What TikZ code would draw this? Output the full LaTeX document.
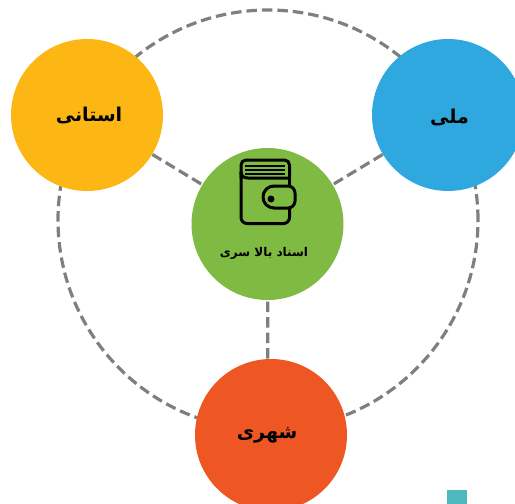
\documentclass[tikz,border=0pt]{standalone}
\usepackage{fontspec}
\TeXXeTstate=1
\newfontfamily\arabicfont[Script=Arabic]{DejaVu Sans}
\definecolor{ringgray}{HTML}{7F7F7F}
\definecolor{cOrange}{HTML}{FDB714}
\definecolor{cBlue}{HTML}{2FA8E0}
\definecolor{cGreen}{HTML}{7FBA42}
\definecolor{cRed}{HTML}{EE5623}
\definecolor{cTeal}{HTML}{4DB8BE}
\tikzset{
  disc/.style={circle,minimum size=152pt,inner sep=0pt,outer sep=0pt,text=black},
  disclabel/.style={font=\arabicfont\bfseries\fontsize{19}{22}\selectfont,text=black,inner sep=0pt},
  ring/.style={circle,draw=ringgray,line width=3.2pt,dash pattern=on 10.5pt off 5pt,minimum size=420pt,inner sep=0pt},
  link/.style={draw=ringgray,line width=3.2pt,dash pattern=on 10.5pt off 5pt},
  walletline/.style={draw=black,line width=3pt,line join=round,line cap=round},
  walletthin/.style={draw=black,line width=1.6pt,line cap=butt},
}
\begin{document}
\begin{tikzpicture}[x=1pt,y=-1pt]
\useasboundingbox (0,0) rectangle (515,504);
\clip (0,0) rectangle (515,504);
\node[ring] (big) at (268,220) {};
\coordinate (cc) at (267.5,224);
\coordinate (co) at (87,115);
\coordinate (cb) at (448,115);
\coordinate (cr) at (271,435);
\coordinate (crtop) at (268,435);
\draw[link] (cc) -- (co);
\draw[link] (cc) -- (cb);
\draw[link] (cc) -- (crtop);
\node[disc,fill=cOrange] (prov) at (co) {};
\node[disc,fill=cBlue] (nat) at (cb) {};
\node[disc,fill=cRed] (city) at (cr) {};
\node[disc,fill=cGreen] (center) at (cc) {};
\node[disclabel] (provt) at (89,115) {\beginR استانی\endR};
\node[disclabel] (natt) at (449.5,117) {\beginR ملی\endR};
\node[disclabel] (cityt) at (267,435) {\beginR شهری\endR};
\node[font=\arabicfont\bfseries\fontsize{12}{15}\selectfont,text=black,inner sep=0pt] (lbl) at (264,253) {\beginR اسناد بالا سری\endR};
% wallet icon
\draw[walletline,rounded corners=5pt] (241,178) -- (241,160) -- (289.5,160) -- (289.5,177);
\draw[walletline] (241,172) .. controls (241,176) and (244,178) .. (248,178) -- (289.5,178);
\draw[walletthin] (245,166) -- (285,166) (245,170) -- (285,170) (245,174) -- (285,174);
\draw[walletline,rounded corners=6pt] (241,172) -- (241,223.5) -- (289.5,223.5) -- (289.5,208);
\draw[walletline] (289.5,178) -- (289.5,186);
\draw[walletline,rounded corners=7pt] (274,186) -- (295,186) -- (295,208) -- (274,208);
\draw[walletline] (274,186) arc[start angle=90,end angle=270,radius=11pt];
\fill[black] (271,199) circle[radius=3.5pt];
\node[fill=cTeal,inner sep=0pt,minimum width=20pt,minimum height=20pt] (sq) at (456.5,499.5) {};
\end{tikzpicture}
\end{document}
